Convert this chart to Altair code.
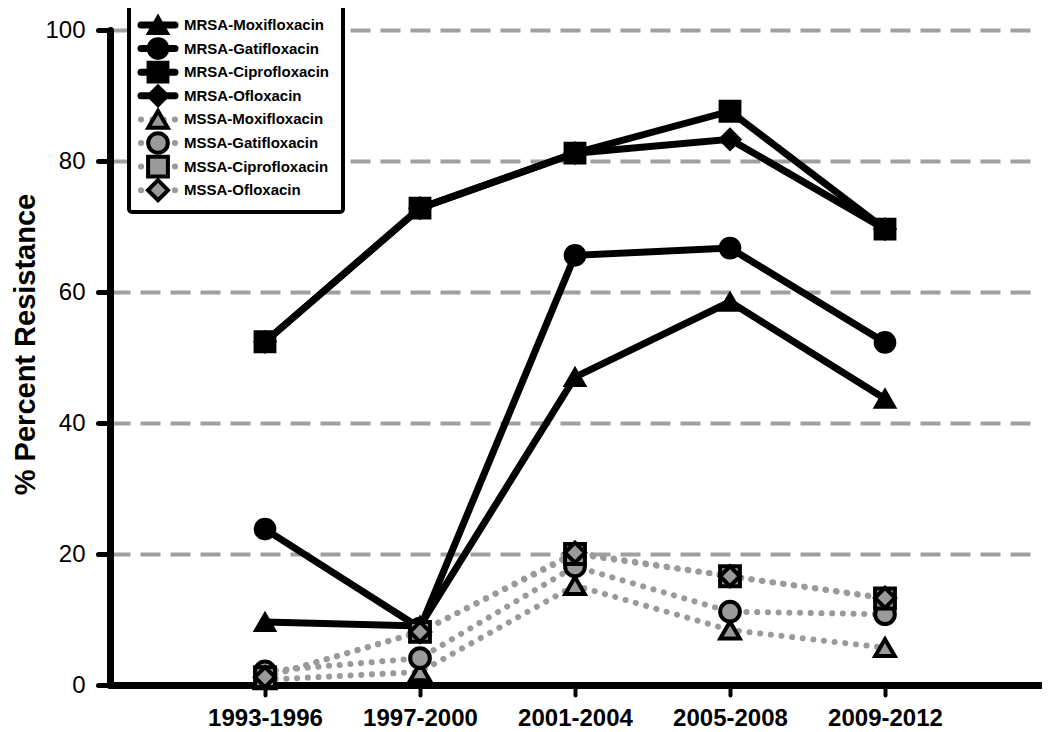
import altair as alt
import pandas as pd

# ---------------- data ----------------
periods = ["1993-1996", "1997-2000", "2001-2004", "2005-2008", "2009-2012"]
drugs = ["Moxifloxacin", "Gatifloxacin", "Ciprofloxacin", "Ofloxacin"]
shapes = ["triangle-up", "circle", "square", "diamond"]

mrsa_moxi = [9.6, 9.0, 47.0, 58.5, 43.7]
mrsa_gati = [23.8, 8.7, 65.6, 66.7, 52.3]
mrsa_cipro = [52.4, 72.8, 81.2, 87.6, 69.6]
mrsa_oflox = [52.4, 72.8, 81.2, 83.3, 69.6]

mssa_moxi = [0.8, 2.0, 15.2, 8.4, 5.7]
mssa_gati = [2.1, 4.1, 18.1, 11.2, 10.8]
mssa_cipro = [1.2, 8.1, 20.0, 16.6, 13.2]
mssa_oflox = [1.2, 8.1, 20.2, 16.6, 13.3]

groups = ["MRSA", "MSSA"]
series = {
    "MRSA": [mrsa_moxi, mrsa_gati, mrsa_cipro, mrsa_oflox],
    "MSSA": [mssa_moxi, mssa_gati, mssa_cipro, mssa_oflox],
}

rows = []
for g in groups:
    for k, (d, vals) in enumerate(zip(drugs, series[g])):
        for p, v in zip(periods, vals):
            rows.append({"group": g, "drug": d, "k": k, "period": p, "value": v})
df = pd.DataFrame(rows)
mrsa_df = df[df.group == "MRSA"]
mssa_df = df[df.group == "MSSA"]

# legend table (built from the same names)
LEG_TOP, LEG_STEP = -5.0, 23.6
leg_rows = []
i = 0
for g in groups:
    for k, d in enumerate(drugs):
        leg_rows.append({"group": g, "drug": d, "k": k, "label": f"{g}-{d}", "ly": LEG_TOP + i * LEG_STEP})
        i += 1
leg = pd.DataFrame(leg_rows)
leg_mrsa = leg[leg.group == "MRSA"]
leg_mssa = leg[leg.group == "MSSA"]

FONT = "Liberation Sans"
GRAY = "#9a9a9a"
DOTS = [0.1, 10.6]

x_enc = alt.X(
    "period:O",
    scale=alt.Scale(type="point", domain=periods, padding=1),
    axis=alt.Axis(
        title=None, labelAngle=0, grid=False,
        domainWidth=7, domainColor="black", domainCap="round",
        tickSize=10, tickWidth=4, tickColor="black", tickCap="round",
        labelFont=FONT, labelFontSize=24, labelFontWeight="bold", labelColor="black",
        labelPadding=11,
    ),
)
y_enc = alt.Y(
    "value:Q",
    scale=alt.Scale(domain=[0, 100], nice=False),
    axis=alt.Axis(
        values=[0, 20, 40, 60, 80, 100], title="% Percent Resistance",
        grid=True, gridColor="#a0a0a0", gridWidth=4, gridDash=[20, 10],
        domainWidth=7, domainColor="black", domainCap="round",
        tickSize=12, tickWidth=5, tickColor="black", tickCap="round",
        labelFont=FONT, labelFontSize=24, labelColor="black", labelPadding=13,
        titleFont=FONT, titleFontSize=29, titleFontWeight="bold", titleColor="black",
        titlePadding=4, titleY=314,
    ),
)
shape_enc = alt.Shape("drug:N", scale=alt.Scale(domain=drugs, range=shapes), legend=None)
size_mrsa = alt.Size("drug:N", scale=alt.Scale(domain=drugs, range=[380, 400, 320, 640]), legend=None)
size_mssa = alt.Size("drug:N", scale=alt.Scale(domain=drugs, range=[330, 340, 290, 500]), legend=None)

mrsa_line = alt.Chart(mrsa_df).mark_line(color="black", strokeWidth=7).encode(
    x=x_enc, y=y_enc, detail="drug:N"
)
mrsa_pts = alt.Chart(mrsa_df).mark_point(
    filled=True, fill="black", stroke="black", strokeWidth=3, opacity=1
).encode(x=x_enc, y=y_enc, shape=shape_enc, size=size_mrsa, order="k:Q")

mssa_line = alt.Chart(mssa_df).mark_line(
    color=GRAY, strokeWidth=6, strokeDash=DOTS, strokeCap="round"
).encode(x=x_enc, y=y_enc, detail="drug:N")
mssa_pts = alt.Chart(mssa_df).mark_point(
    filled=True, fill=GRAY, stroke="black", strokeWidth=4, opacity=1
).encode(x=x_enc, y=y_enc, shape=shape_enc, size=size_mssa, order="k:Q")

# ---------------- legend ----------------
ly = alt.Y("ly:Q", scale=None, axis=None)
box = alt.Chart(pd.DataFrame({"a": [0]})).mark_rect(
    fill="white", stroke="black", strokeWidth=4, cornerRadius=3
).encode(x=alt.value(19), x2=alt.value(233), y=alt.value(-28), y2=alt.value(182))

leg_line_mrsa = alt.Chart(leg_mrsa).mark_rule(
    color="black", strokeWidth=7, strokeCap="round"
).encode(x=alt.value(31), x2=alt.value(65), y=ly)
leg_line_mssa = alt.Chart(leg_mssa).mark_rule(
    color=GRAY, strokeWidth=6, strokeDash=[0.1, 11.2], strokeCap="round"
).encode(x=alt.value(31), x2=alt.value(65), y=ly)
leg_sym_mrsa = alt.Chart(leg_mrsa).mark_point(
    filled=True, fill="black", stroke="black", strokeWidth=3, opacity=1
).encode(x=alt.value(48), y=ly, shape=shape_enc, size=size_mrsa)
leg_sym_mssa = alt.Chart(leg_mssa).mark_point(
    filled=True, fill=GRAY, stroke="black", strokeWidth=4, opacity=1
).encode(x=alt.value(48), y=ly, shape=shape_enc, size=size_mssa)
leg_text = alt.Chart(leg).mark_text(
    align="left", baseline="middle", font=FONT, fontWeight="bold", fontSize=15, color="black"
).encode(x=alt.value(74), y=ly, text="label:N")

chart = alt.layer(
    mrsa_line, mrsa_pts, mssa_line, mssa_pts,
    box, leg_line_mrsa, leg_line_mssa, leg_sym_mrsa, leg_sym_mssa, leg_text,
).properties(
    width=930, height=655,
    padding={"left": 102, "top": 22, "right": 2, "bottom": 46},
    autosize=alt.AutoSizeParams(type="none"),
    background="white",
).configure_view(stroke=None)

chart.save("out.html", embed_options={"renderer": "svg", "actions": False})
